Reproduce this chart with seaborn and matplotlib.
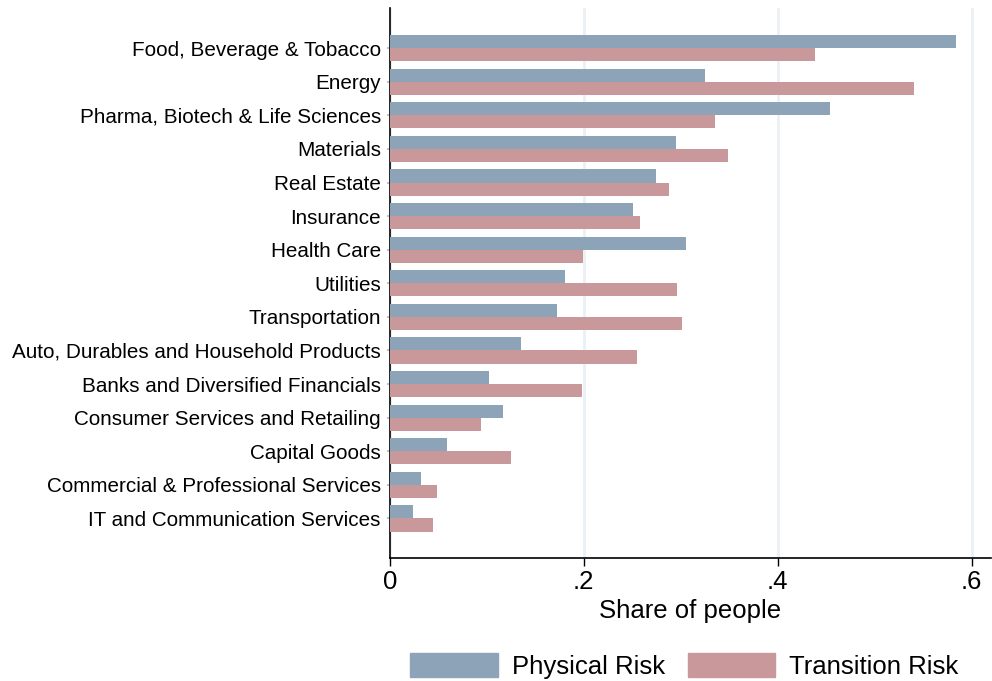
import pandas as pd
import matplotlib.pyplot as plt
import seaborn as sns

sns.set_theme(style="white")
plt.rcParams["font.family"] = ["Liberation Sans", "DejaVu Sans"]
plt.rcParams["text.color"] = "black"
plt.rcParams["xtick.color"] = "black"
plt.rcParams["ytick.color"] = "black"
plt.rcParams["axes.labelcolor"] = "black"

PHYS_COLOR = "#8CA3B8"
TRANS_COLOR = "#C8989B"

# ─── data ────────────────────────────────────────────────────────────────────
sectors = [
    "Food, Beverage & Tobacco",
    "Energy",
    "Pharma, Biotech & Life Sciences",
    "Materials",
    "Real Estate",
    "Insurance",
    "Health Care",
    "Utilities",
    "Transportation",
    "Auto, Durables and Household Products",
    "Banks and Diversified Financials",
    "Consumer Services and Retailing",
    "Capital Goods",
    "Commercial & Professional Services",
    "IT and Communication Services",
]
physical_risk = [0.584, 0.325, 0.454, 0.295, 0.275, 0.251, 0.305, 0.181,
                 0.172, 0.135, 0.102, 0.117, 0.059, 0.032, 0.024]
transition_risk = [0.438, 0.541, 0.335, 0.349, 0.288, 0.258, 0.199, 0.296,
                   0.301, 0.255, 0.198, 0.094, 0.125, 0.049, 0.045]
risk_types = ["Physical Risk", "Transition Risk"]
x_ticks = [0, 0.2, 0.4, 0.6]
x_tick_labels = ["0", ".2", ".4", ".6"]

df = pd.DataFrame({
    "Sector": sectors * 2,
    "Share": physical_risk + transition_risk,
    "Risk": [risk_types[0]] * len(sectors) + [risk_types[1]] * len(sectors),
})

# ─── figure ──────────────────────────────────────────────────────────────────
fig, ax = plt.subplots(figsize=(9.92, 6.81), dpi=100)
fig.subplots_adjust(left=0.393, right=0.999, top=0.988, bottom=0.18)

sns.barplot(data=df, y="Sector", x="Share", hue="Risk", order=sectors,
            hue_order=risk_types, palette=[PHYS_COLOR, TRANS_COLOR],
            orient="h", width=0.78, linewidth=0, saturation=1, ax=ax,
            legend=False, zorder=3)

ax.set_xlim(0, 0.62)
n = len(sectors)
ax.set_ylim(n - 1 + 1.19, -1.19)
ax.set_xticks(x_ticks)
ax.set_xticklabels(x_tick_labels, fontsize=18.5)
ax.xaxis.grid(True, color="#EAF0F5", lw=2, zorder=0)
ax.yaxis.grid(False)
ax.tick_params(axis="y", labelsize=14.9, length=2, color="#BBBBBB", pad=4.5, left=True)
ax.tick_params(axis="x", length=6, width=1, color="black", pad=2, bottom=True)
ax.set_ylabel("")
ax.set_xlabel("Share of people", fontsize=18.5, labelpad=4)

for side in ["top", "right"]:
    ax.spines[side].set_visible(False)
for side in ["left", "bottom"]:
    ax.spines[side].set_color("black")
    ax.spines[side].set_linewidth(1.2)

handles = [plt.Rectangle((0, 0), 1, 1, color=c) for c in [PHYS_COLOR, TRANS_COLOR]]
fig.legend(handles, risk_types, loc="center", bbox_to_anchor=(0.69, 0.022),
           ncol=2, frameon=False, fontsize=18.5, handlelength=3.4,
           handleheight=1.05, handletextpad=0.55, columnspacing=0.9)

plt.savefig("out.png", dpi=100)
plt.close()
